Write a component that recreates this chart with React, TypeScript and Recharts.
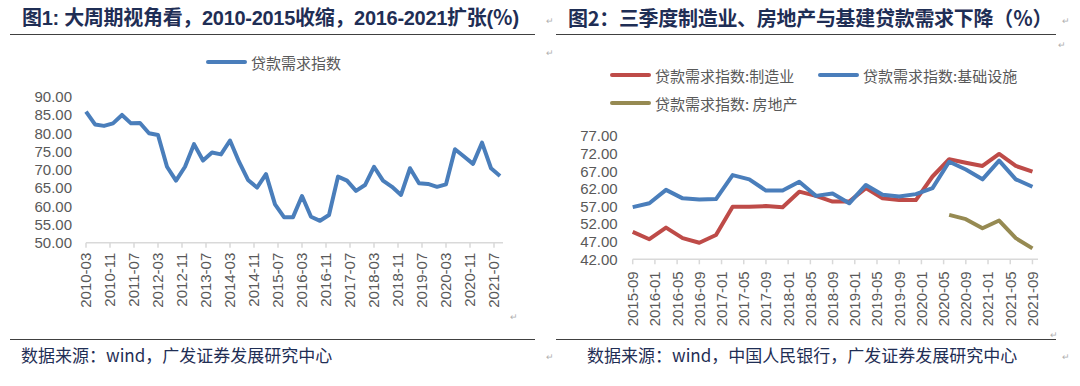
import { LineChart, Line, XAxis, YAxis, Legend } from 'recharts';

// 图1 quarterly loan demand index
const dates1 = [
  '2010-03', '2010-06', '2010-09', '2010-12', '2011-03', '2011-06', '2011-09', '2011-12',
  '2012-03', '2012-06', '2012-09', '2012-12', '2013-03', '2013-06', '2013-09', '2013-12',
  '2014-03', '2014-06', '2014-09', '2014-12', '2015-03', '2015-06', '2015-09', '2015-12',
  '2016-03', '2016-06', '2016-09', '2016-12', '2017-03', '2017-06', '2017-09', '2017-12',
  '2018-03', '2018-06', '2018-09', '2018-12', '2019-03', '2019-06', '2019-09', '2019-12',
  '2020-03', '2020-06', '2020-09', '2020-12', '2021-03', '2021-06', '2021-09',
];
const loanDemand = [
  85.9, 82.4, 82.0, 82.7, 85.0, 82.7, 82.8, 80.0,
  79.5, 70.8, 67.0, 70.8, 77.0, 72.5, 74.7, 74.2,
  78.0, 72.2, 67.2, 65.1, 68.8, 60.5, 57.0, 57.0,
  62.8, 57.1, 56.0, 57.6, 68.1, 67.0, 64.2, 65.8,
  70.8, 67.0, 65.3, 63.1, 70.4, 66.3, 66.1, 65.3,
  66.0, 75.6, 73.6, 71.6, 77.4, 70.4, 68.3,
];
const ticks1 = [
  '2010-03', '2010-11', '2011-07', '2012-03', '2012-11', '2013-07', '2014-03', '2014-11', '2015-07',
  '2016-03', '2016-11', '2017-07', '2018-03', '2018-11', '2019-07', '2020-03', '2020-11', '2021-07',
];
const yTicks1 = [50, 55, 60, 65, 70, 75, 80, 85, 90];

// 图2 by sector
const dates2 = [
  '2015-09', '2015-12', '2016-03', '2016-06', '2016-09', '2016-12', '2017-03', '2017-06', '2017-09',
  '2017-12', '2018-03', '2018-06', '2018-09', '2018-12', '2019-03', '2019-06', '2019-09', '2019-12',
  '2020-03', '2020-06', '2020-09', '2020-12', '2021-03', '2021-06', '2021-09',
];
const manufacturing = [
  49.8, 47.7, 51.0, 48.0, 46.7, 48.9, 56.9, 56.9, 57.1,
  56.8, 61.2, 60.0, 58.4, 58.4, 62.2, 59.3, 58.8, 58.8,
  65.5, 70.4, 69.4, 68.5, 71.9, 68.5, 66.9,
];
const infrastructure = [
  56.8, 57.9, 61.7, 59.3, 59.0, 59.1, 65.9, 64.7, 61.5,
  61.5, 64.0, 60.0, 60.7, 57.9, 63.1, 60.3, 59.8, 60.5,
  62.2, 69.7, 67.5, 64.7, 70.0, 64.7, 62.6,
];
const realEstate = [
  null, null, null, null, null, null, null, null, null,
  null, null, null, null, null, null, null, null, null,
  null, 54.6, 53.4, 50.8, 53.0, 48.0, 45.1,
];
const ticks2 = [
  '2015-09', '2016-01', '2016-05', '2016-09', '2017-01', '2017-05', '2017-09', '2018-01', '2018-05', '2018-09',
  '2019-01', '2019-05', '2019-09', '2020-01', '2020-05', '2020-09', '2021-01', '2021-05', '2021-09',
];
const yTicks2 = [42, 47, 52, 57, 62, 67, 72, 77];

const BLUE = '#4A7EBB';
const RED = '#BE4B48';
const OLIVE = '#968A52';
const GRAY = '#595959';
const NAVY = '#1F2E55';
const NUM_FONT = '"Liberation Sans", Arial, "Noto Sans CJK SC", sans-serif';
const CJK_FONT = '"Noto Sans CJK SC", "Liberation Sans", sans-serif';

const toMonths = (d: string) => {
  const [y, m] = d.split('-').map(Number);
  return y * 12 + m - 1;
};
const fromMonths = (base: string, off: number) => {
  const t = toMonths(base) + off;
  const y = Math.floor(t / 12);
  const m = (t % 12) + 1;
  return `${y}-${m < 10 ? '0' + m : m}`;
};

const data1 = dates1.map((d, i) => ({ m: toMonths(d) - toMonths(dates1[0]), v: loanDemand[i] }));
const data2 = dates2.map((d, i) => ({
  m: toMonths(d) - toMonths(dates2[0]),
  mfg: manufacturing[i],
  infra: infrastructure[i],
  re: realEstate[i],
}));

const RotTick = (props: any) => {
  const { x, y, payload, base } = props;
  return (
    <g transform={`translate(${x},${y})`}>
      <text transform="rotate(-90)" textAnchor="end" dy="0.36em" fill={GRAY} fontSize={15} fontFamily={NUM_FONT}>
        {fromMonths(base, payload.value)}
      </text>
    </g>
  );
};

const LegendBox = ({ items, width }: { items: { name: string; color: string }[]; width: number }) => (
  <div style={{ display: 'flex', flexWrap: 'wrap', width }}>
    {items.map((it) => (
      <div key={it.name} style={{ display: 'flex', alignItems: 'center', width: 208, height: 28 }}>
        <div style={{ width: 41, height: 4, borderRadius: 2, background: it.color, marginRight: 4 }} />
        <span style={{ fontFamily: CJK_FONT, fontSize: 15, color: GRAY, whiteSpace: 'nowrap' }}>{it.name}</span>
      </div>
    ))}
  </div>
);

const mark = (left: number, top: number) => (
  <span style={{ position: 'absolute', left, top, fontSize: 9, color: '#B0B0B0', fontFamily: NUM_FONT }}>↵</span>
);

export default function App() {
  const yTick = { fill: GRAY, fontSize: 15, fontFamily: NUM_FONT };
  return (
    <div style={{ position: 'absolute', left: 0, top: 0, width: 1080, height: 386, background: '#fff', overflow: 'hidden' }}>
      <div style={{ position: 'absolute', left: 22, top: 6, fontFamily: NUM_FONT, fontWeight: 700, fontSize: 20, lineHeight: '24px', letterSpacing: -0.3, color: NAVY, whiteSpace: 'nowrap' }}>
        图1: 大周期视角看，2010-2015收缩，2016-2021扩张(％)
      </div>
      <div style={{ position: 'absolute', left: 568, top: 6, fontFamily: CJK_FONT, fontWeight: 700, fontSize: 20, lineHeight: '24px', letterSpacing: -0.3, color: NAVY, whiteSpace: 'nowrap' }}>
        图2：三季度制造业、房地产与基建贷款需求下降（％）
      </div>
      <div style={{ position: 'absolute', left: 10, top: 34, width: 525, height: 1, background: '#404040' }} />
      <div style={{ position: 'absolute', left: 556, top: 34, width: 500, height: 1, background: '#404040' }} />
      <div style={{ position: 'absolute', left: 10, top: 339, width: 525, height: 1, background: '#404040' }} />
      <div style={{ position: 'absolute', left: 556, top: 339, width: 500, height: 1, background: '#404040' }} />
      {mark(546, 16)}
      {mark(1062, 16)}
      {mark(546, 48)}
      {mark(1058, 40)}
      {mark(510, 312)}
      {mark(1050, 330)}
      {mark(546, 352)}
      {mark(1062, 352)}

      <div style={{ position: 'absolute', left: 0, top: 40 }}>
        <LineChart width={540} height={290} data={data1} margin={{ top: 56.7, right: 37, bottom: 0, left: 0 }}>
          <XAxis
            dataKey="m"
            type="number"
            domain={[0, 139]}
            ticks={ticks1.map((t) => toMonths(t) - toMonths(dates1[0]))}
            interval={0}
            height={87.3}
            stroke="#D9D9D9"
            strokeWidth={1.5}
            tickSize={5}
            tickMargin={5}
            tick={<RotTick base={dates1[0]} />}
          />
          <YAxis
            type="number"
            domain={[50, 90]}
            ticks={yTicks1}
            interval={0}
            width={86}
            axisLine={false}
            tickLine={false}
            tickSize={0}
            tickMargin={14}
            tick={yTick}
            tickFormatter={(v: number) => v.toFixed(2)}
          />
          <Legend
            verticalAlign="middle"
            align="center"
            wrapperStyle={{ top: 8, left: 206, width: 220 }}
            content={() => <LegendBox items={[{ name: '贷款需求指数', color: BLUE }]} width={220} />}
          />
          <Line dataKey="v" name="贷款需求指数" stroke={BLUE} strokeWidth={4} dot={false} strokeLinejoin="round" isAnimationActive={false} />
        </LineChart>
      </div>

      <div style={{ position: 'absolute', left: 548, top: 40 }}>
        <LineChart width={532} height={290} data={data2} margin={{ top: 96, right: 42, bottom: 0, left: 0 }}>
          <XAxis
            dataKey="m"
            type="number"
            domain={[0, 73]}
            ticks={ticks2.map((t) => toMonths(t) - toMonths(dates2[0]))}
            interval={0}
            height={70.7}
            stroke="#D9D9D9"
            strokeWidth={1.5}
            tickSize={5}
            tickMargin={7}
            tick={<RotTick base={dates2[0]} />}
          />
          <YAxis
            type="number"
            domain={[42, 77]}
            ticks={yTicks2}
            interval={0}
            width={84.7}
            axisLine={false}
            tickLine={false}
            tickSize={0}
            tickMargin={15}
            tick={yTick}
            tickFormatter={(v: number) => v.toFixed(2)}
          />
          <Legend
            verticalAlign="middle"
            align="center"
            wrapperStyle={{ top: 21, left: 62, width: 430 }}
            content={() => (
              <LegendBox
                items={[
                  { name: '贷款需求指数:制造业', color: RED },
                  { name: '贷款需求指数:基础设施', color: BLUE },
                  { name: '贷款需求指数: 房地产', color: OLIVE },
                ]}
                width={430}
              />
            )}
          />
          <Line dataKey="mfg" name="贷款需求指数:制造业" stroke={RED} strokeWidth={4} dot={false} strokeLinejoin="round" isAnimationActive={false} />
          <Line dataKey="infra" name="贷款需求指数:基础设施" stroke={BLUE} strokeWidth={4} dot={false} strokeLinejoin="round" isAnimationActive={false} />
          <Line dataKey="re" name="贷款需求指数: 房地产" stroke={OLIVE} strokeWidth={4} dot={false} strokeLinejoin="round" isAnimationActive={false} />
        </LineChart>
      </div>

      <div style={{ position: 'absolute', left: 21, top: 344, fontFamily: CJK_FONT, fontSize: 17, lineHeight: '22px', color: NAVY, whiteSpace: 'nowrap' }}>
        数据来源：wind，广发证券发展研究中心
      </div>
      <div style={{ position: 'absolute', left: 587, top: 344, fontFamily: CJK_FONT, fontSize: 17, lineHeight: '22px', color: NAVY, whiteSpace: 'nowrap' }}>
        数据来源：wind，中国人民银行，广发证券发展研究中心
      </div>
    </div>
  );
}
